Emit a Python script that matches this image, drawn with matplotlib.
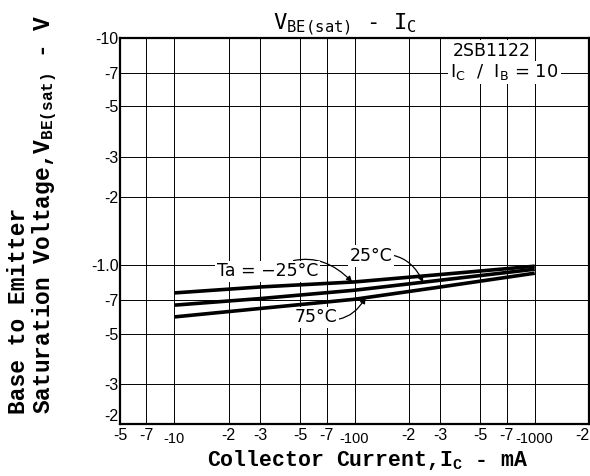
import numpy as np
import matplotlib.pyplot as plt
from matplotlib.ticker import FixedLocator, FixedFormatter, NullLocator

# collector current magnitude (mA) and |VBE(sat)| (V)
ic_ma = [10, 30, 100, 300, 1000]
vbe_m25 = [0.755, 0.802, 0.844, 0.910, 0.990]
vbe_25 = [0.667, 0.713, 0.776, 0.859, 0.960]
vbe_75 = [0.592, 0.645, 0.708, 0.802, 0.922]

x_ticks = [5, 7, 10, 20, 30, 50, 70, 100, 200, 300, 500, 700, 1000, 2000]
x_labels = ['-5', '-7', '-10', '-2', '-3', '-5', '-7', '-100', '-2', '-3', '-5', '-7', '-1000', '-2']
y_ticks = [0.2, 0.3, 0.5, 0.7, 1, 2, 3, 5, 7, 10]
y_labels = ['-2', '-3', '-5', '-7', '-1.0', '-2', '-3', '-5', '-7', '-10']

fig = plt.figure(figsize=(5.9, 4.76), dpi=100)
ax = fig.add_axes([120 / 590, 1 - 424 / 476, 469 / 590, 386 / 476])

ax.set_xscale('log')
ax.set_yscale('log')
ax.set_xlim(5, 2000)
ax.set_ylim(0.2, 10)

for xv in x_ticks:
    ax.axvline(xv, color='black', lw=0.7, zorder=1)
for yv in y_ticks:
    ax.axhline(yv, color='black', lw=0.7, zorder=1)

for v in [vbe_m25, vbe_25, vbe_75]:
    ax.plot(ic_ma, v, color='black', lw=2.6, solid_capstyle='butt', zorder=3)

ax.xaxis.set_major_locator(FixedLocator(x_ticks))
ax.xaxis.set_major_formatter(FixedFormatter(x_labels))
ax.xaxis.set_minor_locator(NullLocator())
ax.yaxis.set_major_locator(FixedLocator(y_ticks))
ax.yaxis.set_major_formatter(FixedFormatter(y_labels))
ax.yaxis.set_minor_locator(NullLocator())
ax.tick_params(length=0, labelsize=11.5)
ax.tick_params(axis='x', pad=3)
ax.tick_params(axis='y', pad=1)
for lab in ax.get_xticklabels() + ax.get_yticklabels():
    lab.set_fontfamily('Liberation Sans')
for i, tk in enumerate(ax.xaxis.get_major_ticks()):
    if x_labels[i] in ('-10', '-100', '-1000'):
        tk.set_pad(6)
        tk.label1.set_fontsize(10.5)
ax.xaxis.get_major_ticks()[-1].label1.set_horizontalalignment('right')
ax.yaxis.get_major_ticks()[0].label1.set_verticalalignment('bottom')

for s in ax.spines.values():
    s.set_linewidth(1.6)

fig.text(345 / 590, 1 - 30 / 476, 'V$_{\\mathregular{BE(sat)}}$ - I$_{\\mathregular{C}}$',
         ha='center', va='baseline', fontfamily='DejaVu Sans Mono', fontsize=16)

mono_bold = dict(fontfamily='Liberation Mono', fontweight='bold')
fig.text(368 / 590, 1 - 472 / 476, 'Collector Current,I$_{\\mathregular{C}}$ - mA',
         ha='center', va='bottom', fontsize=15.5, **mono_bold)
fig.text(33 / 590, 1 - 414 / 476,
         'Base to Emitter\nSaturation Voltage,V$_{\\mathregular{BE(sat)}}$ - V',
         rotation=90, ha='center', va='bottom', multialignment='left',
         linespacing=1.0, fontsize=16.5, **mono_bold)

thin = dict(fontfamily='DejaVu Sans', fontsize=12.5)
box = dict(boxstyle='square,pad=0.1', fc='white', ec='none')

ax.text(352, 8.8, '2SB1122', ha='left', va='center', zorder=4, bbox=box, **thin)
ax.text(340, 7.05, 'I$_{\\mathregular{C}}$  /  I$_{\\mathregular{B}}$ = 10',
        ha='left', va='center', zorder=4, bbox=box,
        fontfamily='DejaVu Sans', fontsize=13)

arrow = dict(arrowstyle='-|>', color='black', lw=0.9, mutation_scale=8,
             shrinkA=0, shrinkB=0)
t_m25 = 10 ** np.interp(np.log10(100), np.log10(ic_ma), np.log10(vbe_m25))
ax.annotate('Ta = \u221225\u00b0C', xy=(97, t_m25), xytext=(33, 0.94),
            ha='center', va='center', zorder=4, bbox=box,
            arrowprops=dict(arrow, connectionstyle='arc3,rad=-0.4'), **thin)
t_25 = 10 ** np.interp(np.log10(240), np.log10(ic_ma), np.log10(vbe_25))
ax.annotate('25\u00b0C', xy=(240, t_25), xytext=(123, 1.1),
            ha='center', va='center', zorder=4, bbox=box,
            arrowprops=dict(arrow, connectionstyle='arc3,rad=-0.4'), **thin)
t_75 = 10 ** np.interp(np.log10(115), np.log10(ic_ma), np.log10(vbe_75))
ax.annotate('75\u00b0C', xy=(115, t_75), xytext=(61, 0.59),
            ha='center', va='center', zorder=4, bbox=box,
            arrowprops=dict(arrow, connectionstyle='arc3,rad=0.4'), **thin)

fig.savefig('out.png', dpi=100)
